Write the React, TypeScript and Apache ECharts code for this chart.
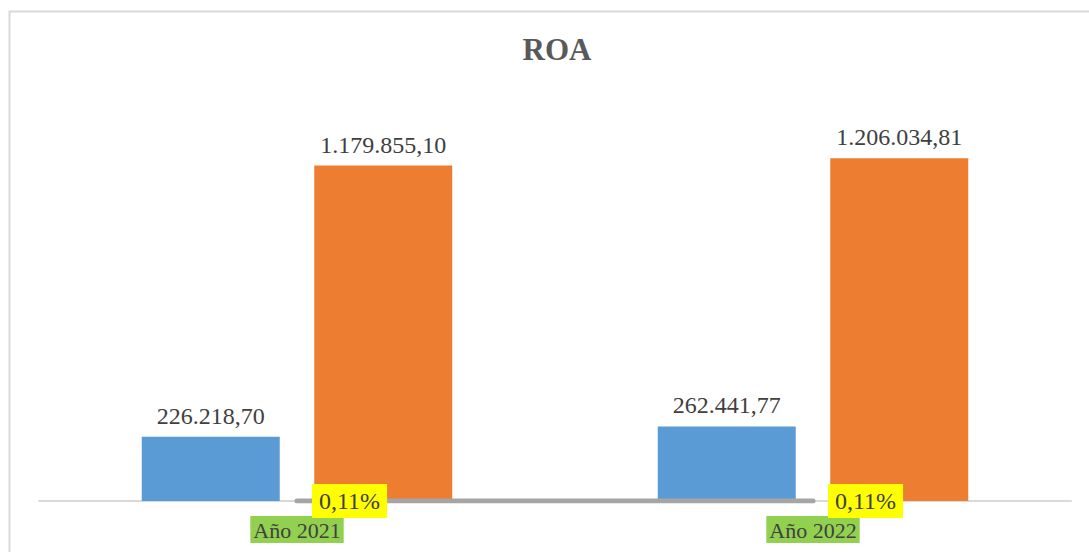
import React, { useEffect, useRef } from "react";
import * as echarts from "echarts";

const categories = ["Año 2021", "Año 2022"];
const seriesA = [226218.7, 262441.77];
const seriesB = [1179855.1, 1206034.81];
const roa = [0.0011, 0.0011];
const roaLabels = ["0,11%", "0,11%"];

const fmt = (v: number) => {
  const parts = v.toFixed(2).split(".");
  const int = parts[0].replace(/\B(?=(\d{3})+(?!\d))/g, ".");
  return int + "," + parts[1];
};

const FONT = "Liberation Serif";

export default function App() {
  const ref = useRef<HTMLDivElement>(null);
  useEffect(() => {
    if (!ref.current) return;
    const chart = echarts.init(ref.current, null, { renderer: "svg" });
    chart.setOption({
      animation: false,
      backgroundColor: "#ffffff",
      title: {
        text: "ROA",
        left: 552,
        top: 29,
        textAlign: "center",
        textStyle: { fontFamily: FONT, fontSize: 31, fontWeight: "bold", color: "#595959" },
      },
      graphic: [
        {
          type: "rect",
          shape: { x: 9.5, y: 11.5, width: 1100, height: 600 },
          style: { fill: "none", stroke: "#d9d9d9", lineWidth: 2 },
          silent: true,
        },
      ],
      grid: { left: 39, right: 18, top: 103, bottom: 51 },
      xAxis: {
        type: "category",
        data: categories,
        axisLine: { lineStyle: { color: "#d9d9d9", width: 2 } },
        axisTick: { show: false },
        axisLabel: {
          fontFamily: FONT,
          fontSize: 22,
          color: "#404040",
          backgroundColor: "#92d050",
          padding: [3, 3, 2, 3],
          margin: 15,
        },
      },
      yAxis: {
        type: "value",
        min: 0,
        max: 1400000,
        show: false,
        splitLine: { show: false },
      },
      series: [
        {
          type: "bar",
          data: seriesA,
          barWidth: 138,
          barGap: "25%",
          itemStyle: { color: "#5b9bd5" },
          label: {
            show: true,
            position: "top",
            distance: 9,
            fontFamily: FONT,
            fontSize: 24,
            color: "#404040",
            formatter: (p: any) => fmt(p.value),
          },
        },
        {
          type: "bar",
          data: seriesB,
          barWidth: 138,
          itemStyle: { color: "#ed7d31" },
          label: {
            show: true,
            position: "top",
            distance: 9,
            fontFamily: FONT,
            fontSize: 24,
            color: "#404040",
            formatter: (p: any) => fmt(p.value),
          },
        },
        {
          type: "line",
          data: roa,
          symbol: "circle",
          symbolSize: 2,
          showSymbol: true,
          showAllSymbol: true,
          z: 5,
          itemStyle: { color: "#a5a5a5", borderWidth: 0 },
          lineStyle: { color: "#a5a5a5", width: 5, cap: "round" },
          labelLayout: { hideOverlap: false },
          label: {
            show: true,
            position: "right",
            distance: 14,
            fontFamily: FONT,
            fontSize: 24,
            color: "#404040",
            backgroundColor: "#ffff00",
            padding: [6, 7, 4, 7],
            formatter: (p: any) => roaLabels[p.dataIndex],
          },
        },
      ],
    });
    return () => chart.dispose();
  }, []);
  return (
    <div
      ref={ref}
      style={{ position: "absolute", left: 0, top: 0, width: 1089, height: 552 }}
    />
  );
}
